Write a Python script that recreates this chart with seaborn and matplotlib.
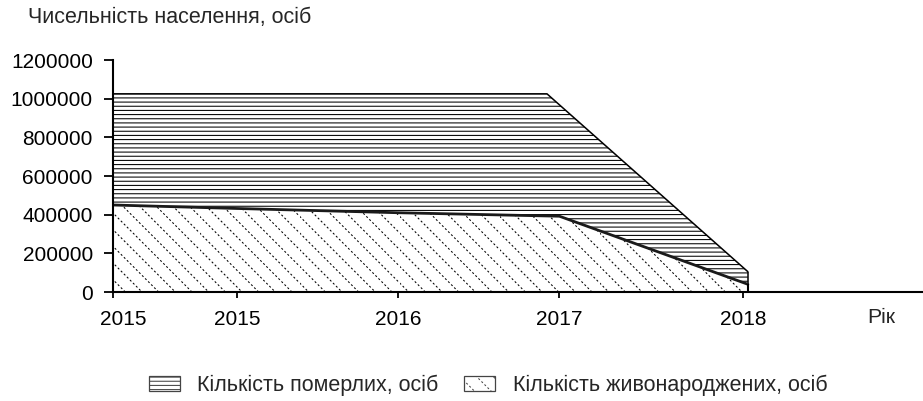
import numpy as np
import matplotlib
matplotlib.use("Agg")
import matplotlib.pyplot as plt
import matplotlib.transforms as mtransforms
from matplotlib import hatch as mhatch
from matplotlib.path import Path
from matplotlib.patches import Patch
import seaborn as sns

# ---- data -------------------------------------------------------------
year_labels = ["2015", "2015", "2016", "2017", "2018"]
tick_pos = [0.0, 1.0, 2.3, 3.6, 5.08]

deaths_x = [0.0, 3.5, 5.12]
deaths = [1025000, 1025000, 105000]

births_x = [0.0, 1.0, 2.3, 3.6, 5.12]
births = [450000, 432000, 410000, 392000, 40000]

y_ticks = [0, 200000, 400000, 600000, 800000, 1000000, 1200000]

title = "Чисельність населення, осіб"
x_name = "Рік"
deaths_name = "Кількість померлих, осіб"
births_name = "Кількість живонароджених, осіб"


# ---- dotted diagonal hatch used for "\\" --------------------------------
class DottedSouthEastHatch(mhatch.HatchPatternBase):
    """Diagonal (top-left to bottom-right) rows of small dots."""

    def __init__(self, hatch, density):
        self.num_lines = int((hatch.count('\\') + hatch.count('x')
                              + hatch.count('X')) * density)
        self.dots = 33
        self.num_vertices = self.num_lines * self.dots * 2

    def set_vertices_and_codes(self, vertices, codes):
        d = 0.007
        k = np.repeat(np.arange(self.num_lines), self.dots)
        m = np.tile(np.arange(self.dots), self.num_lines)
        x = m / self.dots
        y = (k / self.num_lines - x) % 1.0
        y = np.clip(y, d, 1.0)
        vertices[0::2, 0] = x
        vertices[0::2, 1] = y
        vertices[1::2, 0] = x + d
        vertices[1::2, 1] = y - d
        codes[0::2] = Path.MOVETO
        codes[1::2] = Path.LINETO


mhatch._hatch_types = [DottedSouthEastHatch if t is mhatch.SouthEastHatch else t
                       for t in mhatch._hatch_types]

# ---- style --------------------------------------------------------------
sns.set_style("ticks")
plt.rcParams["font.family"] = ["Liberation Sans", "DejaVu Sans"]
plt.rcParams["hatch.linewidth"] = 0.75
plt.rcParams["hatch.color"] = "black"

W, H = 923, 401
fig = plt.figure(figsize=(W / 100, H / 100), dpi=100)
ax = fig.add_axes([113 / W, (H - 292) / H, (W - 113) / W, 232 / H])

# hatched areas (overlapping, births drawn on top of deaths)
ax.fill_between(deaths_x, 0, deaths, facecolor="white", edgecolor="black",
                hatch="----", linewidth=0, zorder=1)
ax.fill_between(births_x, 0, births, facecolor="white", edgecolor="black",
                hatch="\\", linewidth=0, zorder=2)

# outlines of both areas
sns.lineplot(x=deaths_x, y=deaths, color="black", linewidth=1.1, ax=ax,
             zorder=3)
ax.vlines(deaths_x[-1], 0, deaths[-1], color="black", linewidth=1.1, zorder=3)
sns.lineplot(x=births_x, y=births, color="#1a1a1a", linewidth=2.0, ax=ax,
             zorder=4)
ax.vlines(births_x[-1], 0, births[-1], color="black", linewidth=1.5, zorder=4)

# axes
ax.set_xlim(0, (W - 113) / 124)
ax.set_ylim(0, 1200000)
ax.set_xticks(tick_pos)
ax.set_xticklabels(year_labels)
ax.set_yticks(y_ticks)
ax.set_yticklabels([str(v) for v in y_ticks])
sns.despine(ax=ax, top=True, right=True)
for side in ("left", "bottom"):
    ax.spines[side].set_linewidth(1.5)
    ax.spines[side].set_color("black")
    ax.spines[side].set_zorder(5)
ax.tick_params(axis="y", direction="out", length=6.5, width=1.3,
               labelsize=15, pad=8, colors="black")
ax.tick_params(axis="x", direction="out", length=4, width=1.3,
               labelsize=15, pad=9, colors="black")
ax.set_xlabel(x_name, fontsize=15.3)
ax.xaxis.set_label_coords((881 - 113) / (W - 113), -0.112)
ax.xaxis.label.set_va("center")
ax.set_ylabel("")

# first year label sits a little to the right of its tick
first = ax.get_xticklabels()[0]
first.set_transform(first.get_transform()
                    + mtransforms.ScaledTranslation(10 / 100, 0,
                                                    fig.dpi_scale_trans))

fig.text(28 / W, 1 - 18 / H, title, fontsize=15.5, ha="left", va="center")

handles = [
    Patch(facecolor="white", edgecolor="#444444", hatch="----",
          linewidth=0.9, label=deaths_name),
    Patch(facecolor="white", edgecolor="#444444", hatch="\\",
          linewidth=0.9, label=births_name),
]
fig.legend(handles=handles, loc="center", bbox_to_anchor=(488 / W, 1 - 385 / H),
           ncol=2, frameon=False, fontsize=15.5, handlelength=1.45,
           handleheight=0.7, handletextpad=0.8, columnspacing=1.2,
           borderaxespad=0, borderpad=0)

fig.savefig("out.png", dpi=100)
